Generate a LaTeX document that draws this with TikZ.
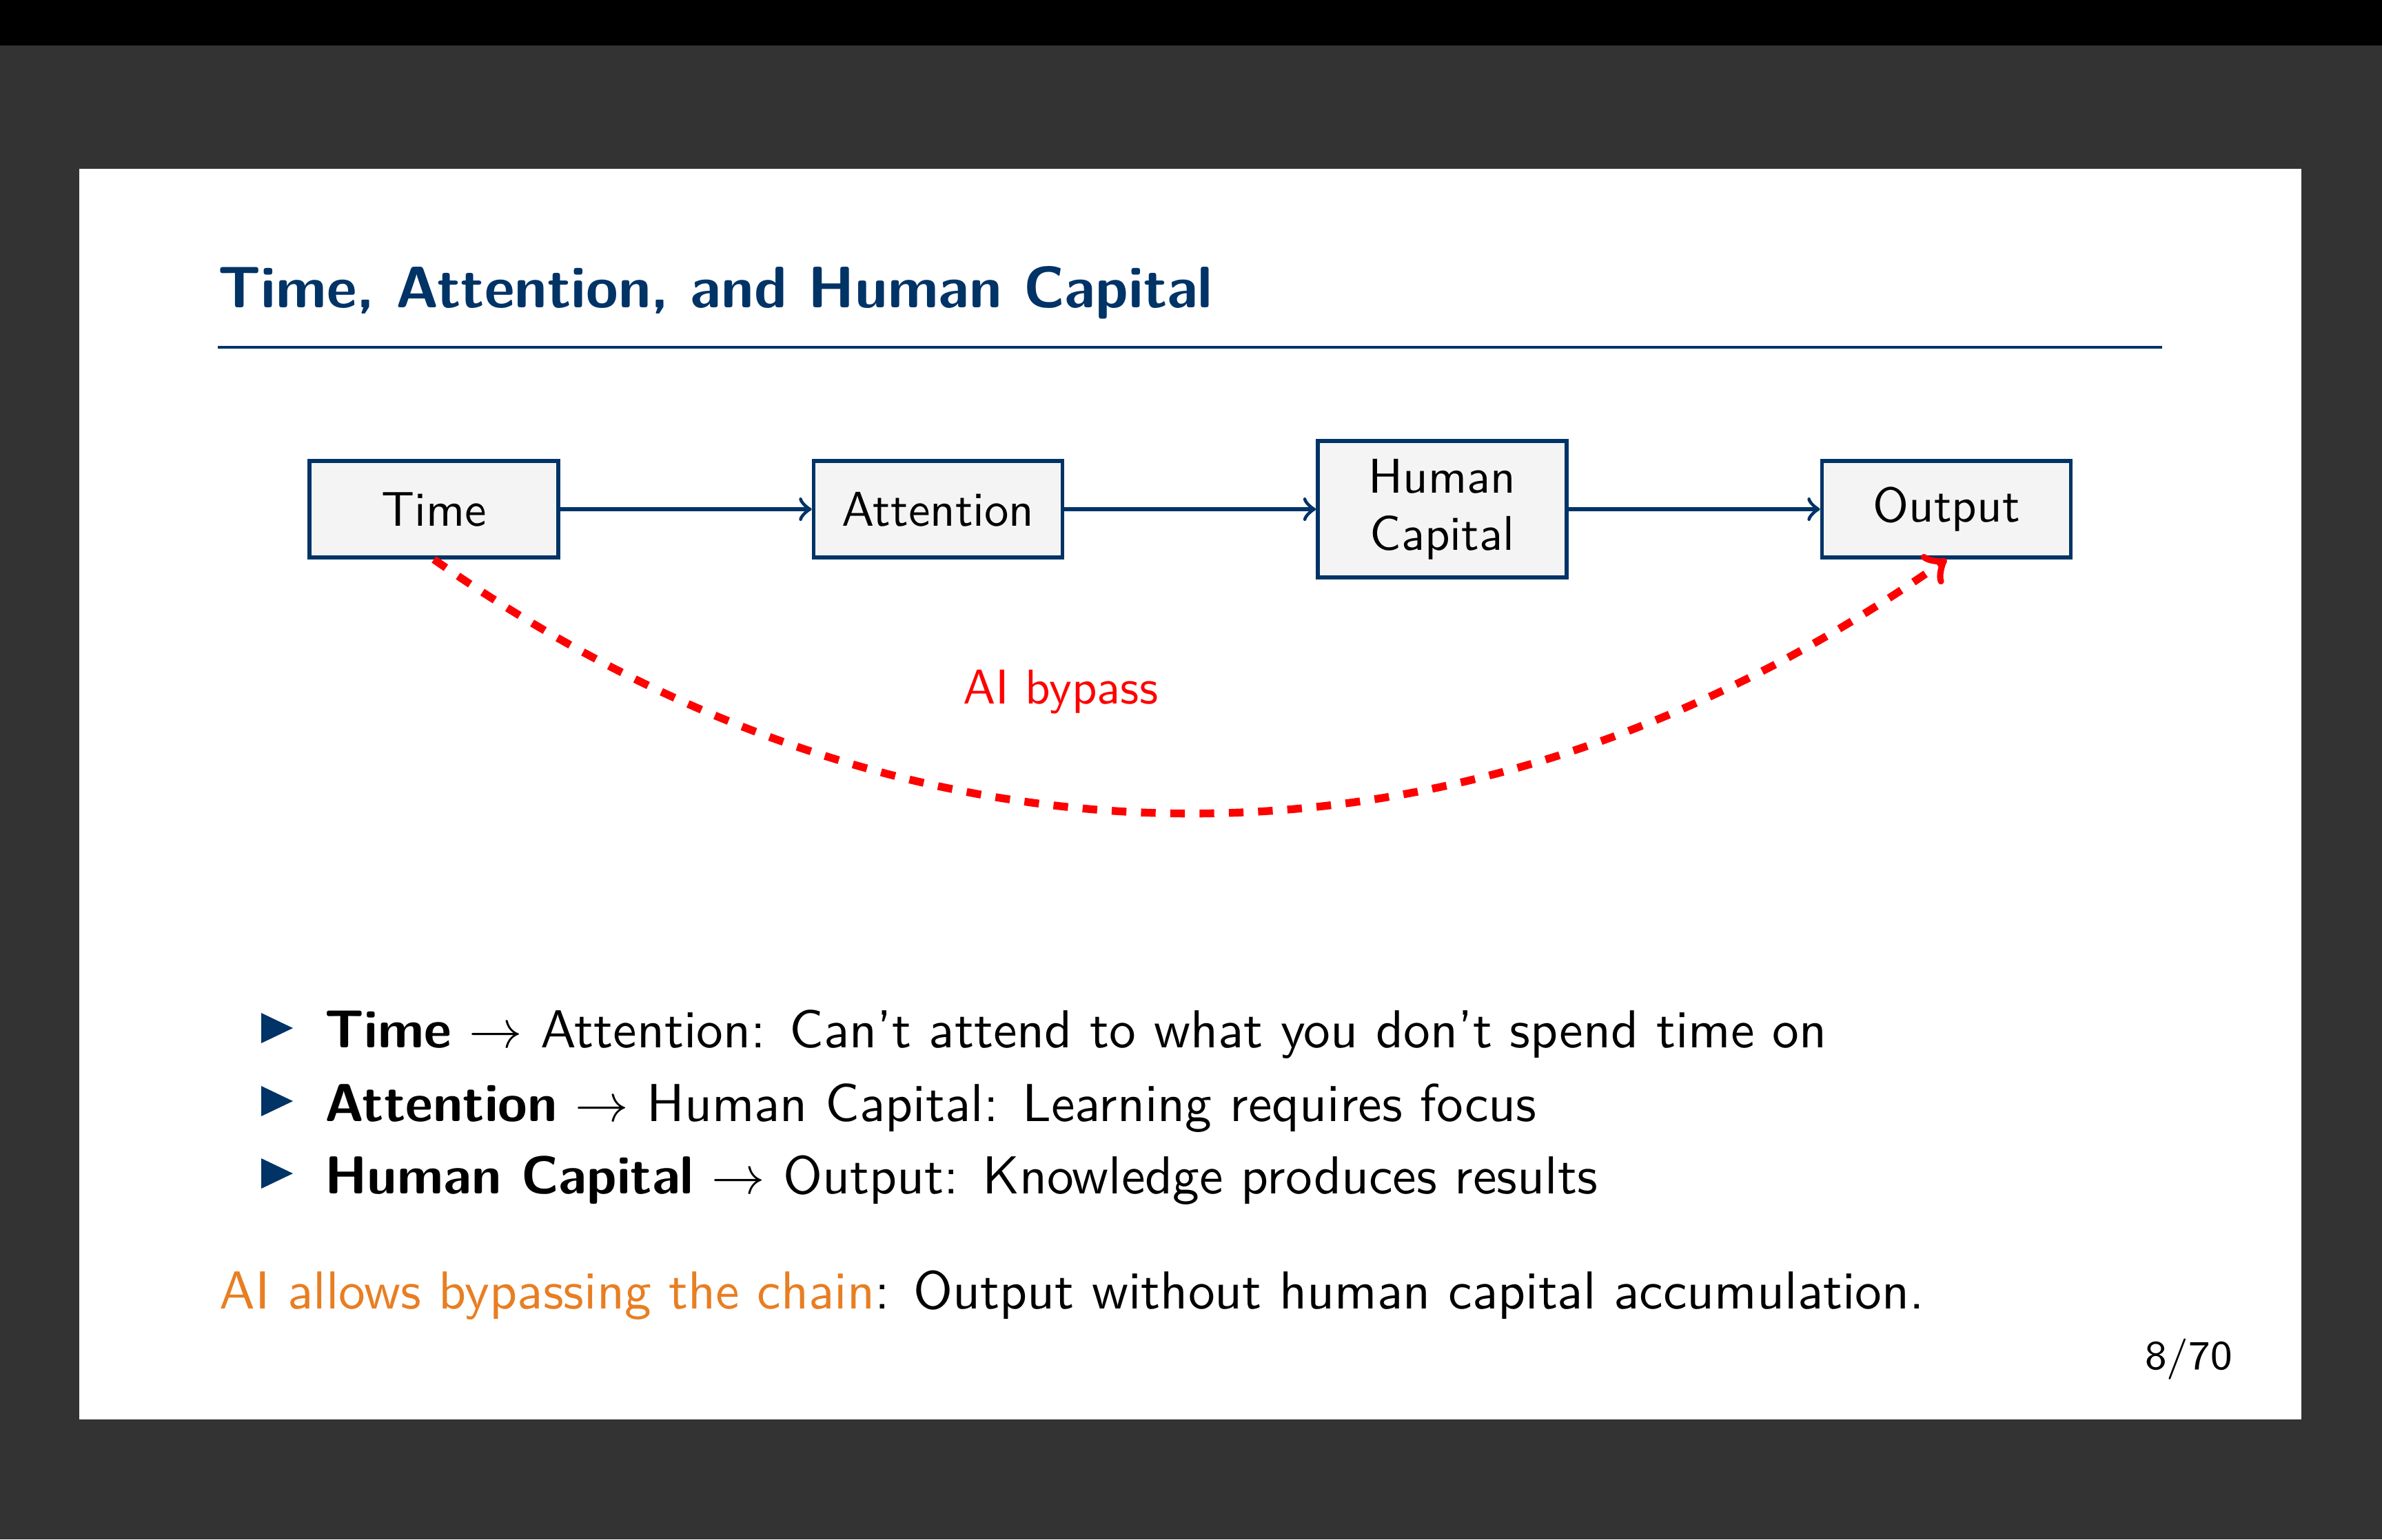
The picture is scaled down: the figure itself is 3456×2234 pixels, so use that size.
\documentclass[tikz,border=0pt]{standalone}
\usepackage{fontspec}
\renewcommand{\familydefault}{\sfdefault}
\usetikzlibrary{arrows}
\definecolor{navy}{RGB}{0,51,102}
\definecolor{boxfill}{RGB}{244,244,244}
\definecolor{bggray}{RGB}{51,51,51}
\definecolor{aiorange}{RGB}{232,126,34}
\definecolor{bypassred}{RGB}{255,0,0}
\tikzset{
  chainbox/.style={draw=navy, fill=boxfill, thick, minimum width=17.92mm, minimum height=6.95mm, inner sep=1mm, align=center, font=\fontsize{10}{11.7}\selectfont},
  flow/.style={navy, thick, ->},
  bypass/.style={bypassred, ultra thick, dashed, ->},
  bodytext/.style={anchor=base west, inner sep=0pt, font=\fontsize{10.95}{13}\selectfont},
  bullettri/.style={fill=navy},
}
\begin{document}
\begin{tikzpicture}[x=0.04963mm, y=-0.04963mm]
\useasboundingbox (0,0) rectangle (3456,2234);
\fill[bggray] (0,0) rectangle (3456,2234);
\fill[black] (0,0) rectangle (3456,66);
\fill[white] (115,245) rectangle (3339,2060);

% title
\node[anchor=base west, inner sep=0pt, text=navy, font=\fontsize{12}{14}\selectfont\bfseries] (title) at (315,446) {Time, Attention, and Human Capital};
\draw[navy, line width=0.2mm] (316,504) -- (3137,504);

% chain
\node[chainbox] (time) at (629.5,739) {Time};
\node[chainbox] (att) at (1361,739) {Attention};
\node[chainbox, minimum height=9.83mm] (hc) at (2092.5,739) {Human\\Capital};
\node[chainbox] (out) at (2824,739) {Output};
\draw[flow] (time) -- (att);
\draw[flow] (att) -- (hc);
\draw[flow] (hc) -- (out);
\draw[bypass] (time.south) to[bend right=35] (out.south);
\node[anchor=base west, inner sep=0pt, text=bypassred, font=\fontsize{10}{12}\selectfont] (bypasslabel) at (1396,1021) {AI bypass};

% bullets
\fill[bullettri] (379,1470) -- (425,1492) -- (379,1514) -- cycle;
\fill[bullettri] (379,1576) -- (425,1598) -- (379,1620) -- cycle;
\fill[bullettri] (379,1681) -- (425,1703) -- (379,1725) -- cycle;
\node[bodytext] (b1) at (470,1520) {\textbf{Time} $\rightarrow$ Attention: Can't attend to what you don't spend time on};
\node[bodytext] (b2) at (470,1627) {\textbf{Attention} $\rightarrow$ Human Capital: Learning requires focus};
\node[bodytext] (b3) at (470,1732) {\textbf{Human Capital} $\rightarrow$ Output: Knowledge produces results};

\node[bodytext] (concl) at (317,1899) {\textcolor{aiorange}{AI allows bypassing the chain}: Output without human capital accumulation.};

\node[anchor=base east, inner sep=0pt, font=\fontsize{8.4}{10}\selectfont] (page) at (3240,1987) {8/70};
\end{tikzpicture}
\end{document}
